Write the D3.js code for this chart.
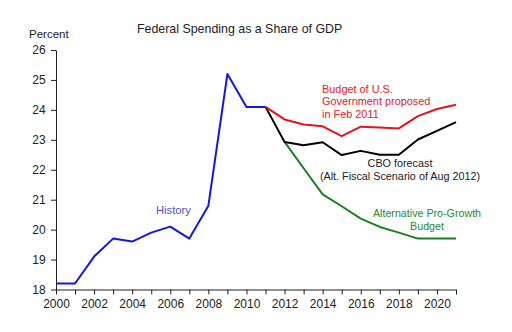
<!DOCTYPE html>
<html><head><meta charset="utf-8">
<script src="https://cdn.jsdelivr.net/npm/d3@7"></script>
<style>body{margin:0;background:#fff}svg{display:block;font-family:Arial,"Liberation Sans",sans-serif}</style>
</head><body><svg id="c" width="512" height="332"></svg>
<script>
const historyYears = [2000,2001,2002,2003,2004,2005,2006,2007,2008,2009,2010,2011];
const historyVals  = [18.2,18.2,19.1,19.7,19.6,19.9,20.1,19.7,20.8,25.2,24.1,24.1];
const budgetYears = [2011,2012,2013,2014,2015,2016,2017,2018,2019,2020,2021];
const budgetVals  = [24.1,23.68,23.51,23.45,23.12,23.44,23.41,23.38,23.79,24.03,24.17];
const cboYears = [2011,2012,2013,2014,2015,2016,2017,2018,2019,2020,2021];
const cboVals  = [24.1,22.93,22.82,22.92,22.49,22.63,22.5,22.5,23.01,23.3,23.59];
const altYears = [2012,2013,2014,2015,2016,2017,2018,2019,2020,2021];
const altVals  = [22.93,22.05,21.18,20.78,20.37,20.09,19.9,19.7,19.7,19.7];
const yTicks = [18,19,20,21,22,23,24,25,26];
const xTickLabels = [2000,2002,2004,2006,2008,2010,2012,2014,2016,2018,2020];

const svg = d3.select("#c");
const x = d3.scaleLinear().domain([2000,2021]).range([56,456]);
const y = d3.scaleLinear().domain([18,26]).range([289.5,50]);

const xAxis = d3.axisBottom(x).tickValues(d3.range(2000,2022)).tickSize(5).tickSizeOuter(0)
  .tickFormat(d => xTickLabels.includes(d) ? d : "");
const gx = svg.append("g").attr("transform","translate(0,289.5)").call(xAxis);
gx.selectAll("text").attr("font-size",12).attr("fill","#222").attr("dy","0.9em");
gx.selectAll("line,path").attr("stroke","#222");

const yAxis = d3.axisLeft(y).tickValues(yTicks).tickSize(5).tickSizeOuter(0);
const gy = svg.append("g").attr("transform","translate(56,0)").call(yAxis);
gy.selectAll("text").attr("font-size",12).attr("fill","#222").attr("dx","-0.2em");
gy.selectAll("line,path").attr("stroke","#222");
gx.attr("font-family",null); gy.attr("font-family",null);

const line = d3.line().x(d=>x(d[0])).y(d=>y(d[1]));
function draw(years, vals, color){
  svg.append("path").datum(years.map((yr,i)=>[yr,vals[i]]))
    .attr("d",line).attr("fill","none").attr("stroke",color).attr("stroke-width",2).attr("stroke-linejoin","round");
}
draw(altYears, altVals, "#15831a");
draw(cboYears, cboVals, "#000");
draw(budgetYears, budgetVals, "#e8121c");
draw(historyYears, historyVals, "#1414e6");

svg.append("text").attr("x",137).attr("y",33).attr("font-size",12.4).attr("fill","#222")
  .text("Federal Spending as a Share of GDP");
svg.append("text").attr("x",29).attr("y",38).attr("font-size",11.5).attr("fill","#222").text("Percent");

function label(lines, xx, yy, color, anchor, fs){
  const t = svg.append("text").attr("font-size",fs).attr("fill",color).attr("text-anchor",anchor);
  lines.forEach((s,i)=>t.append("tspan").attr("x",xx).attr("y",yy+i*12.5).text(s));
}
label(["History"],156,214,"#5050cc","start",11.2);
label(["Budget of U.S.","Government proposed","in Feb 2011"],322,92.5,"#e0202a","start",10.9);
label(["CBO forecast","(Alt. Fiscal Scenario of Aug 2012)"],400,167,"#222","middle",10.8);
label(["Alternative Pro-Growth","Budget"],427,217,"#2a8a2a","middle",10.7);
</script></body></html>
